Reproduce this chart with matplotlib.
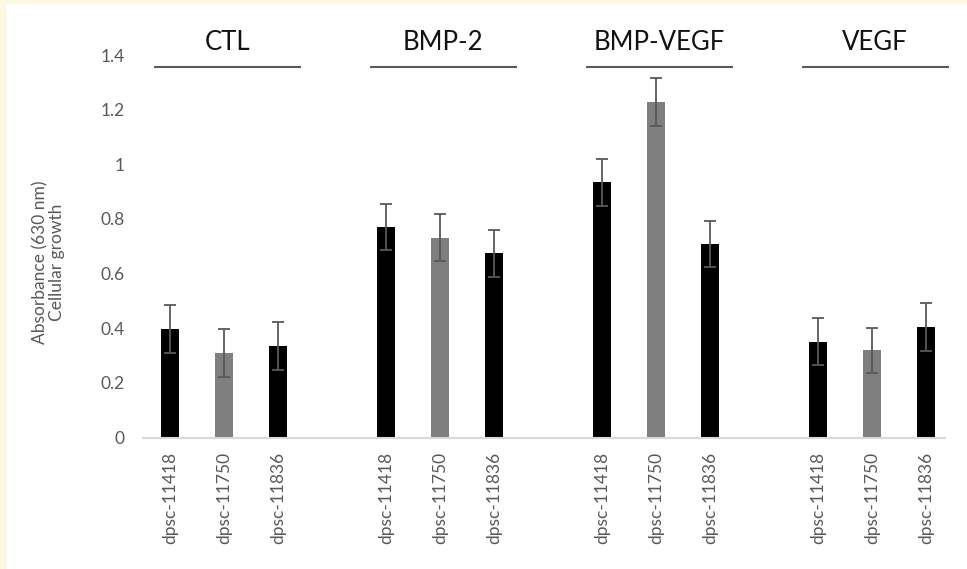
import matplotlib
matplotlib.use("Agg")
import matplotlib.pyplot as plt
from matplotlib.patches import Rectangle
import numpy as np

plt.rcParams['font.family'] = ['Lato', 'DejaVu Sans']

groups = ['CTL', 'BMP-2', 'BMP-VEGF', 'VEGF']
cells = ['dpsc-11418', 'dpsc-11750', 'dpsc-11836']
values = [
    [0.398, 0.310, 0.335],
    [0.770, 0.732, 0.674],
    [0.934, 1.229, 0.709],
    [0.350, 0.319, 0.404],
]
errors = [
    [0.087, 0.087, 0.087],
    [0.084, 0.087, 0.086],
    [0.086, 0.088, 0.085],
    [0.086, 0.083, 0.087],
]
bar_colors = ['#000000', '#7f7f7f', '#000000']
grey = '#595959'

fig = plt.figure(figsize=(9.67, 5.69), dpi=100)
fig.patch.set_facecolor('white')
# cream frame on top and left edge of the screenshot
fig.patches.append(Rectangle((0, 1 - 3 / 569), 1, 3 / 569, transform=fig.transFigure,
                             color='#fdf8e3', zorder=0))
fig.patches.append(Rectangle((0, 0), 5 / 967, 1, transform=fig.transFigure,
                             color='#fdf8e3', zorder=0))

ax = fig.add_axes([143 / 967, 1 - 437.5 / 569, 810 / 967, (437.5 - 55) / 569])

pos = []
labels = []
for g in range(len(groups)):
    for c in range(len(cells)):
        x = g * 4 + c
        pos.append(x)
        labels.append(cells[c])
        ax.bar(x, values[g][c], width=0.34, color=bar_colors[c], zorder=2)
        ax.errorbar(x, values[g][c], yerr=errors[g][c], fmt='none', ecolor=grey,
                    elinewidth=1.3, capsize=4, capthick=1.3, zorder=3)
    # group header line and name
    mid = g * 4 + 1.06
    ax.plot([mid - 1.36, mid + 1.36], [1.356, 1.356], color=grey, lw=1.5,
            clip_on=False, solid_capstyle='butt')
    ax.text(mid, 1.445, groups[g], ha='center', va='center', fontsize=18.5,
            color='#111111', clip_on=False)

ax.set_xlim(-0.5, 14.5)
ax.set_ylim(0, 1.4)
ax.set_yticks([0, 0.2, 0.4, 0.6, 0.8, 1.0, 1.2, 1.4])
ax.set_yticklabels(['0', '0.2', '0.4', '0.6', '0.8', '1', '1.2', '1.4'])
ax.set_xticks(pos)
ax.set_xticklabels(labels, rotation=90)
ax.tick_params(axis='both', length=0, labelsize=12.5, labelcolor=grey)
ax.tick_params(axis='y', pad=13)
ax.tick_params(axis='x', pad=10)

for s in ['top', 'right', 'left']:
    ax.spines[s].set_visible(False)
ax.spines['bottom'].set_color('#d9d9d9')
ax.spines['bottom'].set_linewidth(1.5)
ax.spines['bottom'].set_bounds(-0.5, 14.35)

fig.text(49 / 967, 1 - 262 / 569, 'Absorbance (630 nm)\nCellular growth', rotation=90,
         ha='center', va='center', fontsize=12.5, color=grey, multialignment='center',
         linespacing=1.05)

fig.savefig('out.png', dpi=100)
